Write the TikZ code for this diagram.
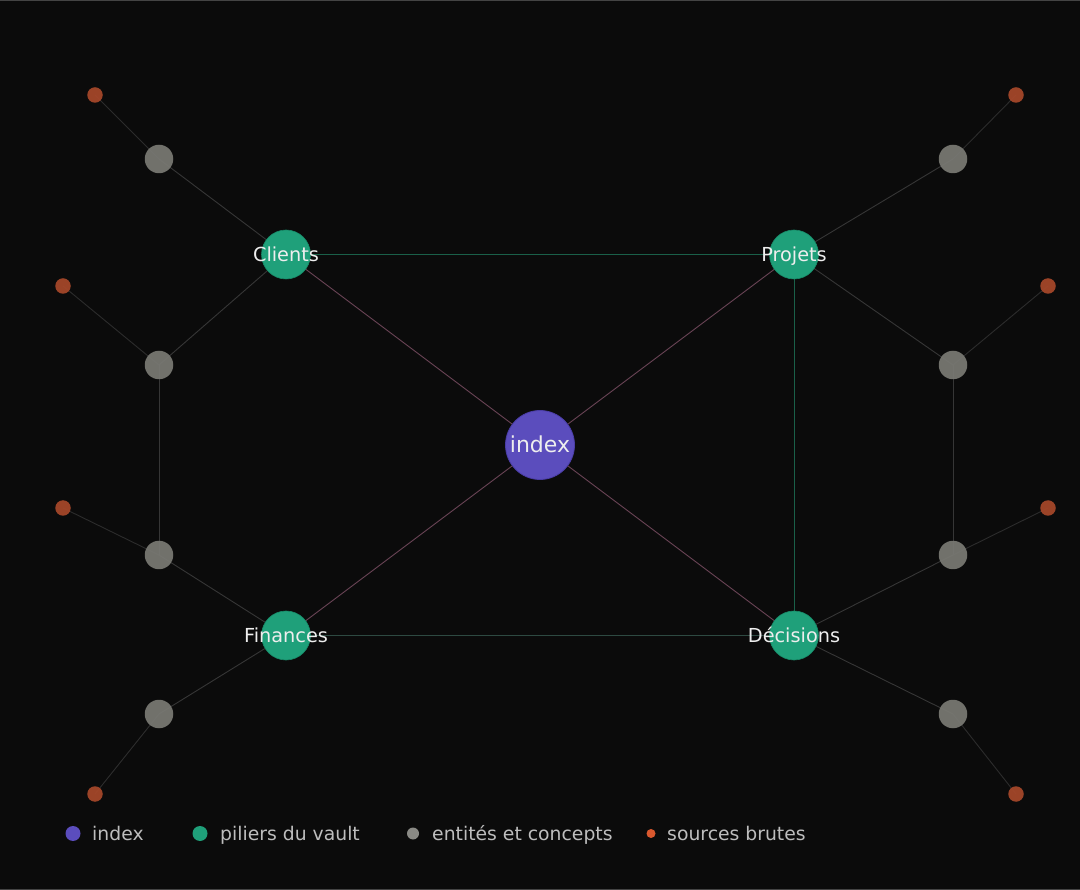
\documentclass[tikz,border=0pt]{standalone}
\usepackage{fontspec}
\setmainfont{DejaVu Sans}
\pgfdeclarelayer{back}
\pgfsetlayers{back,main}
\definecolor{bg}{HTML}{0B0B0B}
\definecolor{frameline}{HTML}{444444}
\definecolor{pillar}{HTML}{1FA07A}
\definecolor{pillarline}{HTML}{178A68}
\definecolor{idx}{HTML}{5B4DBD}
\definecolor{idxline}{HTML}{4A3DA6}
\definecolor{ent}{HTML}{7A7A74}
\definecolor{src}{HTML}{A8482A}
\definecolor{srclegend}{HTML}{D9582E}
\definecolor{entlegend}{HTML}{8A8A85}
\definecolor{edgeidx}{HTML}{6A4455}
\definecolor{edgepil}{HTML}{1A6049}
\definecolor{edgepilb}{HTML}{2E4A42}
\definecolor{edgeent}{HTML}{363636}
\definecolor{edgesrc}{HTML}{2C2C2C}
\definecolor{labeltext}{HTML}{EEEEEE}
\definecolor{legendtext}{HTML}{BDBDBD}
\tikzset{
  idxnode/.style={circle,fill=idx,draw=idxline,line width=0.8pt,minimum size=69pt,inner sep=0pt},
  pilnode/.style={circle,fill=pillar,draw=pillarline,line width=0.6pt,minimum size=49pt,inner sep=0pt},
  entnode/.style={circle,fill=ent,fill opacity=0.92,minimum size=28.5pt,inner sep=0pt},
  srcnode/.style={circle,fill=src,fill opacity=0.92,minimum size=15.5pt,inner sep=0pt},
  lbl/.style={text=labeltext,font=\fontsize{19.3}{21}\selectfont,inner sep=0pt,text height=14pt,text depth=0pt},
  idxlbl/.style={text=labeltext,font=\fontsize{22}{24}\selectfont,inner sep=0pt,text height=16pt,text depth=0pt},
  eidx/.style={draw=edgeidx,line width=0.9pt},
  epil/.style={draw=edgepil,line width=1pt},
  epilb/.style={draw=edgepilb,line width=1pt},
  eent/.style={draw=edgeent,line width=0.9pt},
  esrc/.style={draw=edgesrc,line width=0.9pt},
  legdot/.style={circle,inner sep=0pt},
  legtxt/.style={text=legendtext,font=\fontsize{18.8}{20}\selectfont,anchor=west,inner sep=0pt,text height=14pt,text depth=0pt}
}
\begin{document}
\begin{tikzpicture}[x=1pt,y=-1pt]
\useasboundingbox (0,0) rectangle (1080,890);

% nodes
\node[idxnode] (index) at (540,445) {};
\node[pilnode] (clients) at (286,254.5) {};
\node[pilnode] (projets) at (794,254.5) {};
\node[pilnode] (finances) at (286,635.5) {};
\node[pilnode] (decisions) at (794,635.5) {};

\node[entnode] (e1) at (159,159) {};
\node[entnode] (e2) at (159,365) {};
\node[entnode] (e3) at (159,555) {};
\node[entnode] (e4) at (159,714) {};
\node[entnode] (e5) at (953,159) {};
\node[entnode] (e6) at (953,365) {};
\node[entnode] (e7) at (953,555) {};
\node[entnode] (e8) at (953,714) {};

\node[srcnode] (s1) at (95,95) {};
\node[srcnode] (s2) at (63,286) {};
\node[srcnode] (s3) at (63,508) {};
\node[srcnode] (s4) at (95,794) {};
\node[srcnode] (s5) at (1016,95) {};
\node[srcnode] (s6) at (1048,286) {};
\node[srcnode] (s7) at (1048,508) {};
\node[srcnode] (s8) at (1016,794) {};

% background and edges behind nodes
\begin{pgfonlayer}{back}
\fill[bg] (0,0) rectangle (1080,890);
\draw[frameline,line width=1.2pt] (0,0.6) -- (1080,0.6);
\draw[frameline,line width=1.2pt] (0,889.4) -- (1080,889.4);
\draw[eidx] (index.center) -- (clients.center);
\draw[eidx] (index.center) -- (projets.center);
\draw[eidx] (index.center) -- (finances.center);
\draw[eidx] (index.center) -- (decisions.center);
\draw[epil] (clients.center) -- (projets.center);
\draw[epil] (projets.center) -- (decisions.center);
\draw[epilb] (finances.center) -- (decisions.center);
\draw[eent] (clients.center) -- (e1.center);
\draw[eent] (clients.center) -- (e2.center);
\draw[eent] (e2.center) -- (e3.center);
\draw[eent] (finances.center) -- (e3.center);
\draw[eent] (finances.center) -- (e4.center);
\draw[eent] (projets.center) -- (e5.center);
\draw[eent] (projets.center) -- (e6.center);
\draw[eent] (e6.center) -- (e7.center);
\draw[eent] (decisions.center) -- (e7.center);
\draw[eent] (decisions.center) -- (e8.center);
\draw[esrc] (s1.center) -- (e1.center);
\draw[esrc] (s2.center) -- (e2.center);
\draw[esrc] (s3.center) -- (e3.center);
\draw[esrc] (s4.center) -- (e4.center);
\draw[esrc] (s5.center) -- (e5.center);
\draw[esrc] (s6.center) -- (e6.center);
\draw[esrc] (s7.center) -- (e7.center);
\draw[esrc] (s8.center) -- (e8.center);
\end{pgfonlayer}

% labels
\node[idxlbl] (indexL) at (index) {index};
\node[lbl] (clientsL) at (clients) {Clients};
\node[lbl] (projetsL) at (projets) {Projets};
\node[lbl] (financesL) at (finances) {Finances};
\node[lbl] (decisionsL) at (decisions) {Décisions};

% legend
\node[legdot,fill=idx,minimum size=15pt] (lg1) at (73,833.5) {};
\node[legtxt] (lt1) at (92,833.5) {index};
\node[legdot,fill=pillar,minimum size=15pt] (lg2) at (200,833.5) {};
\node[legtxt] (lt2) at (220,833.5) {piliers du vault};
\node[legdot,fill=entlegend,minimum size=12pt] (lg3) at (413,833.5) {};
\node[legtxt] (lt3) at (432,833.5) {entités et concepts};
\node[legdot,fill=srclegend,minimum size=9pt] (lg4) at (651,833.5) {};
\node[legtxt] (lt4) at (667,833.5) {sources brutes};
\end{tikzpicture}
\end{document}
